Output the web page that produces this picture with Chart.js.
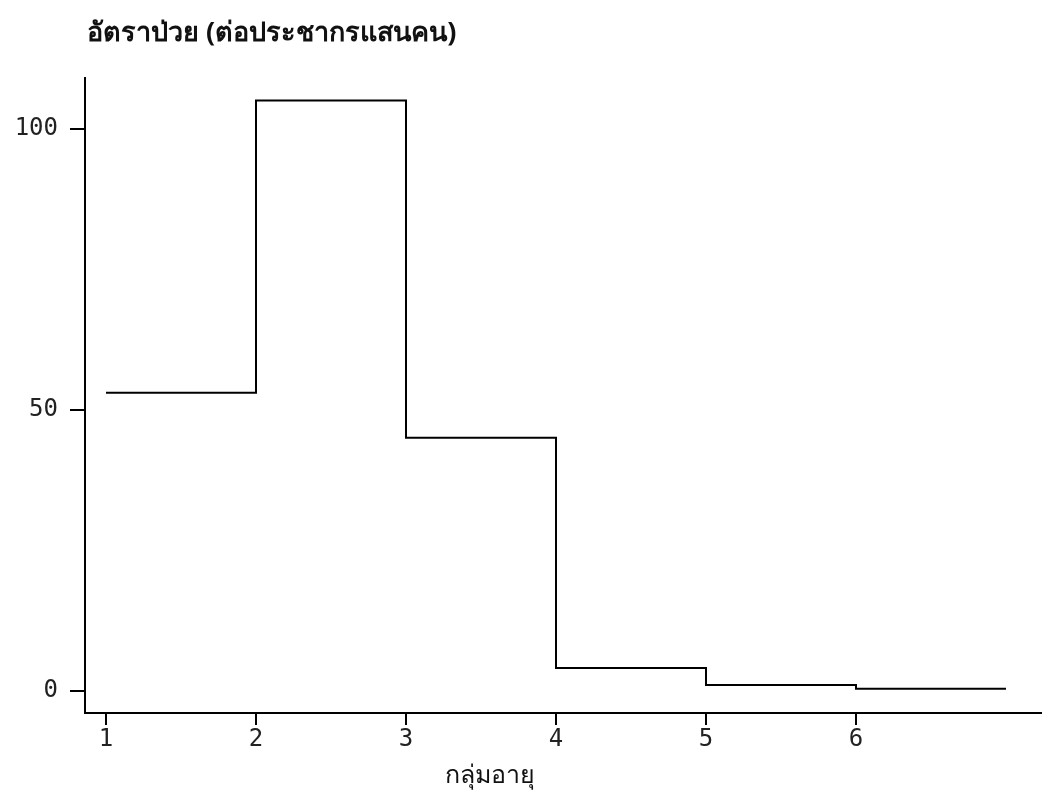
<!DOCTYPE html>
<html>
<head>
<meta charset="utf-8">
<script src="https://cdn.jsdelivr.net/npm/chart.js@4.4.1/dist/chart.umd.min.js"></script>
<style>
  html, body { margin: 0; padding: 0; background: #fff; }
  #wrap { width: 1042px; height: 812px; position: relative; }
</style>
</head>
<body>
<div id="wrap"><canvas id="rateChart"></canvas></div>
<script>
// age groups and disease rate per 100,000 population
const ageGroups = [1, 2, 3, 4, 5, 6];
const rates = [53, 105, 45, 4, 1, 0.3];
const xTicks = [1, 2, 3, 4, 5, 6];
const yTicks = [0, 50, 100];

const chartTitle = "อัตราป่วย (ต่อประชากรแสนคน)";
const xTitle = "กลุ่มอายุ";

// each group is a step from its own x to the next one
const points = ageGroups.map((g, i) => ({ x: g, y: rates[i] }));
points.push({ x: ageGroups[ageGroups.length - 1] + 1, y: rates[rates.length - 1] });

const titlesPlugin = {
  id: "titles",
  afterDraw(chart) {
    const ctx = chart.ctx;
    const area = chart.chartArea;
    ctx.save();
    ctx.fillStyle = "#111";
    ctx.textBaseline = "middle";
    ctx.font = "bold 27px 'Noto Sans', 'DejaVu Serif', serif";
    ctx.textAlign = "left";
    ctx.fillText(chartTitle, area.left + 2, 33);
    ctx.font = "25px 'Noto Sans', 'DejaVu Serif', serif";
    ctx.textAlign = "center";
    ctx.fillText(xTitle, area.left + 405, 776);
    ctx.restore();
  }
};

const monoTicks = { family: "'DejaVu Sans Mono', monospace", size: 24 };

new Chart(document.getElementById("rateChart"), {
  type: "line",
  data: {
    datasets: [{
      data: points,
      stepped: "before",
      borderColor: "#000",
      borderWidth: 2,
      pointRadius: 0,
      fill: false
    }]
  },
  options: {
    responsive: true,
    maintainAspectRatio: false,
    animation: false,
    layout: { padding: { top: 78, right: 0, left: 0, bottom: 0 } },
    plugins: {
      legend: { display: false },
      tooltip: { enabled: false }
    },
    scales: {
      x: {
        type: "linear",
        min: 0.86,
        max: 7.24,
        afterBuildTicks: (scale) => { scale.ticks = xTicks.map(v => ({ value: v })); },
        afterFit: (scale) => { scale.height = 99; },
        border: { display: true, color: "#000", width: 2 },
        grid: { drawOnChartArea: false, drawTicks: true, tickLength: 12, color: "#000", lineWidth: 2 },
        ticks: { color: "#222", font: monoTicks, padding: 0, maxRotation: 0 }
      },
      y: {
        type: "linear",
        min: -4,
        max: 109,
        afterBuildTicks: (scale) => { scale.ticks = yTicks.map(v => ({ value: v })); },
        afterFit: (scale) => { scale.width = 85; },
        border: { display: true, color: "#000", width: 2 },
        grid: { drawOnChartArea: false, drawTicks: true, tickLength: 15, color: "#000", lineWidth: 2 },
        ticks: { color: "#222", font: monoTicks, padding: 12 }
      }
    }
  },
  plugins: [titlesPlugin]
});
</script>
</body>
</html>
